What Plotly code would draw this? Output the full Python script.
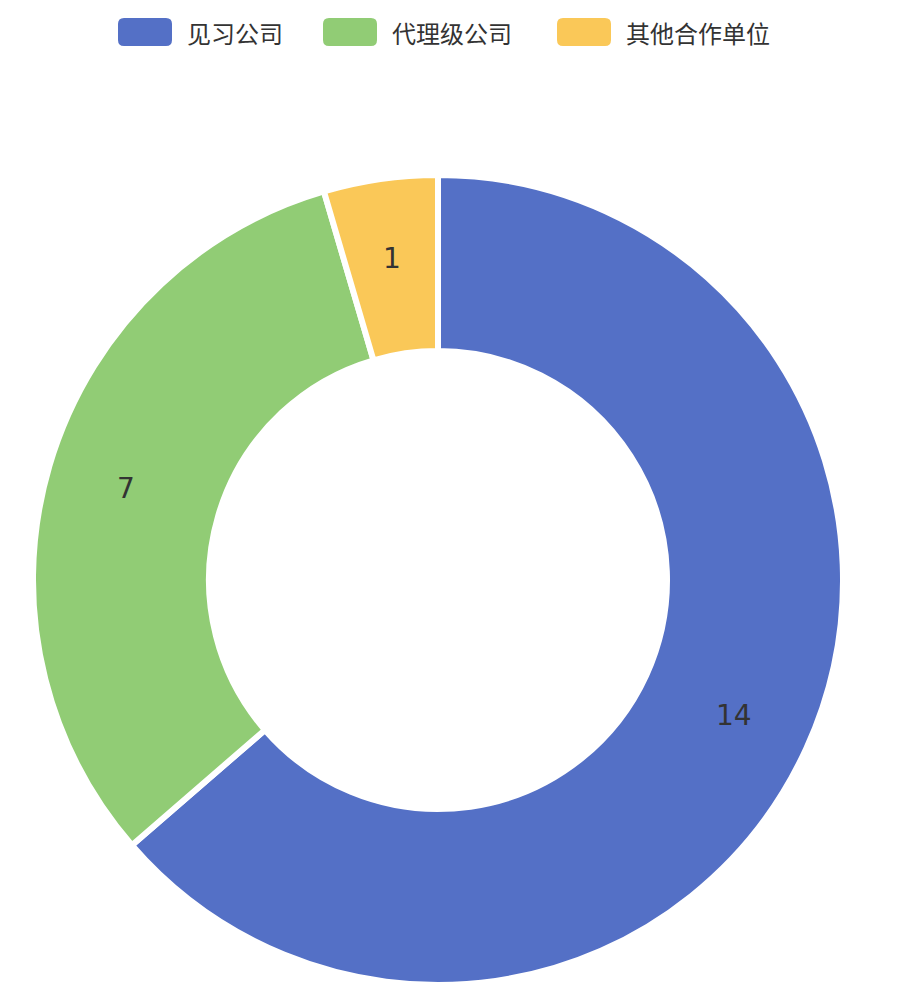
import math
import plotly.graph_objects as go

# ---- data ----
categories = ["见习公司", "代理级公司", "其他合作单位"]
values = [14, 7, 1]
colors = ["#5470c6", "#91cc75", "#fac858"]

# page has an 8px body margin; work in figure pixel coords
OFF = 8
W, H = 901 - 2 * OFF, 1001 - 2 * OFF

# donut geometry (page pixels)
cx_pg, cy_pg = 438, 580
R_out, R_in = 402, 232
LINE_W = 6
R_dom = R_out + LINE_W / 2  # white stroke eats half its width
cx, cy = cx_pg - OFF, cy_pg - OFF


def px(x):
    return x / W


def py(y):
    return 1 - y / H


fig = go.Figure()
fig.add_trace(go.Pie(
    labels=categories,
    values=values,
    hole=(R_in - LINE_W / 2) / R_dom,
    sort=False,
    direction="clockwise",
    rotation=0,
    marker=dict(colors=colors, line=dict(color="white", width=LINE_W)),
    textinfo="none",
    domain=dict(x=[px(cx - R_dom), px(cx + R_dom)], y=[py(cy + R_dom), py(cy - R_dom)]),
    showlegend=False,
    hoverinfo="label+value+percent",
))

# value labels at slice mid-angles (computed from the data)
annotations = []
total = sum(values)
cum = 0
r_lab = (R_out + R_in) / 2 + 8
for v in values:
    mid = (cum + v / 2) / total * 2 * math.pi
    cum += v
    lx = cx + r_lab * math.sin(mid)
    ly = cy - r_lab * math.cos(mid)
    annotations.append(dict(
        x=px(lx), y=py(ly), xref="paper", yref="paper",
        xanchor="center", yanchor="middle", text=str(v), showarrow=False,
        font=dict(family="DejaVu Sans, sans-serif", size=28, color="#333333"),
    ))

# ---- custom legend (rounded boxes + text) ----
legend_box_x = [118, 323, 557]
box_w, box_h, box_y = 54, 28, 18
shapes = []
r = 6
for i, (lab, col) in enumerate(zip(categories, colors)):
    x0 = legend_box_x[i] - OFF
    x1 = x0 + box_w
    y0 = box_y - OFF
    y1 = y0 + box_h
    path = (f"M {px(x0 + r)},{py(y0)} L {px(x1 - r)},{py(y0)} Q {px(x1)},{py(y0)} {px(x1)},{py(y0 + r)} "
            f"L {px(x1)},{py(y1 - r)} Q {px(x1)},{py(y1)} {px(x1 - r)},{py(y1)} L {px(x0 + r)},{py(y1)} "
            f"Q {px(x0)},{py(y1)} {px(x0)},{py(y1 - r)} L {px(x0)},{py(y0 + r)} Q {px(x0)},{py(y0)} {px(x0 + r)},{py(y0)} Z")
    shapes.append(dict(type="path", path=path, xref="paper", yref="paper",
                       fillcolor=col, line=dict(width=0)))
    annotations.append(dict(
        x=px(x1 + 13), y=py(y0 + box_h / 2),
        xref="paper", yref="paper", xanchor="left", yanchor="middle",
        text=lab, showarrow=False,
        font=dict(family="Noto Sans CJK SC, DejaVu Sans, sans-serif", size=24, color="#333333"),
    ))

fig.update_layout(
    width=W, height=H,
    margin=dict(l=0, r=0, t=0, b=0),
    paper_bgcolor="white",
    plot_bgcolor="white",
    shapes=shapes,
    annotations=annotations,
)

fig.write_html("out.html")
